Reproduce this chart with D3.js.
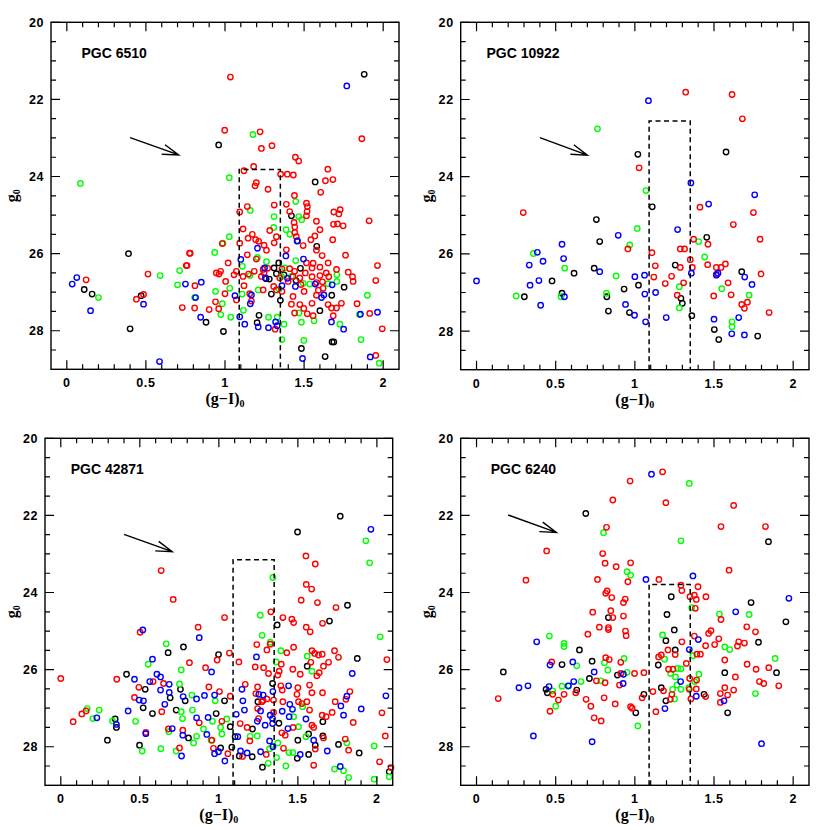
<!DOCTYPE html>
<meta charset="utf-8">
<style>
    body { margin: 0; background: #fff; }
    svg { font-family: "Liberation Sans", Arial, sans-serif; }
    .frame { fill: none; stroke: #000; stroke-width: 1.4; }
    .tick { stroke: #000; stroke-width: 1.2; }
    .ticklabel { font-size: 12.5px; font-weight: bold; letter-spacing: 0.6px; }
    .title { font-family: "Liberation Serif", "Times New Roman", serif; font-size: 16px; font-weight: bold; }
    .name { font-size: 14px; font-weight: bold; }
    .box { fill: none; stroke: #000; stroke-width: 1.5; stroke-dasharray: 5,3.5; }
    .arrow { fill: none; stroke: #000; stroke-width: 1.4; }
    .pt { fill: none; stroke-width: 1.4; }
</style>
<body>
<script src="https://cdn.jsdelivr.net/npm/d3@7"></script>
<script>
// axis ranges and tick values shared by all four panels
const xDomain = [-0.1, 2.1];
const yDomain = [20, 29];
const xMajor = [0, 0.5, 1, 1.5, 2];
const yMajor = [20, 22, 24, 26, 28];

// ---- PGC 6510 ----
const p1Black = [[1.88,21.35],[0.96,23.18],[1.57,24.14],[0.39,26.0],[0.11,26.93],[0.16,27.05],[0.47,27.09],[0.40,27.95],[0.88,27.78],[0.99,28.02],
  [1.42,25.02],[1.456,25.67],[1.58,25.81],[1.34,26.24],[1.31,26.37],[1.325,26.52],[1.28,26.66],[1.373,26.55],[1.477,26.38],[1.449,26.7],
  [1.753,26.87],[1.675,27.08],[1.293,27.05],[1.35,27.21],[1.215,27.6],[1.203,27.79],[1.6,27.48],[1.483,28.46],[1.633,28.67],[1.677,28.29],[1.688,28.29],[1.26,26.65]];
const p1Blue = [[1.77,21.65],[0.034,26.79],[0.063,26.62],[0.15,27.48],[0.485,27.31],[0.75,26.79],[0.814,27.14],[0.85,26.74],[0.846,27.65],[0.586,28.8],
  [1.063,27.09],[1.1,26.15],[1.093,27.64],[1.125,27.83],[1.167,27.07],[1.16,27.3],[1.21,27.9],[1.205,25.86],[1.25,26.37],[1.255,26.63],
  [1.275,27.92],[1.32,27.77],[1.33,27.87],[1.36,26.83],[1.385,26.06],[1.395,26.64],[1.445,26.85],[1.458,25.67],[1.496,26.14],[1.49,28.72],
  [1.57,26.79],[1.61,27.14],[1.625,27.07],[1.673,27.77],[1.677,26.81],[1.75,27.96],[1.856,27.57],[1.964,27.52],[1.918,28.68]];
const p1Green = [[0.086,24.18],[0.2,27.14],[0.59,26.57],[0.7,26.81],[0.713,26.44],[0.935,25.97],[0.94,26.98],[0.983,27.3],[0.973,27.58],[1.036,27.65],
  [1.027,24.03],[1.027,25.56],[1.03,26.9],[0.987,25.73],[1.11,26.33],[1.116,27.47],[1.158,26.57],[1.16,24.88],[1.177,22.91],[1.205,26.1],
  [1.21,26.94],[1.262,26.21],[1.31,25.04],[1.308,25.32],[1.275,27.65],[1.33,27.65],[1.36,28.23],[1.373,27.83],[1.386,25.38],[1.41,25.5],
  [1.377,26.37],[1.42,26.59],[1.447,24.65],[1.447,26.18],[1.466,25.04],[1.485,25.12],[1.468,27.54],[1.483,27.78],[1.498,28.25],[1.536,26.79],
  [1.563,27.74],[1.707,26.55],[1.707,26.72],[1.726,27.83],[1.9,27.08],[1.86,28.23],[1.975,28.84],[1.85,27.58],[1.494,26.77],[1.652,26.78],
  [1.342,26.92],[1.357,26.59],[1.108,27.05],[0.808,27.14]];
const p1Red = [[1.034,21.42],[0.998,22.8],[1.222,22.84],[1.23,23.27],[1.297,23.2],[1.865,23.02],[1.445,23.5],[1.466,23.6],[1.181,23.74],[1.12,23.85],
  [1.352,23.94],[1.394,23.94],[1.432,23.96],[1.65,23.81],[1.635,24.11],[1.682,24.08],[1.198,24.16],[1.19,24.24],[1.272,24.33],[1.605,24.41],
  [1.439,24.49],[1.311,24.74],[1.388,24.72],[1.515,24.69],[1.521,24.78],[1.093,24.92],[1.141,24.78],[1.409,24.91],[1.519,24.91],[1.515,25.02],
  [1.688,24.92],[1.728,24.86],[1.72,24.97],[1.911,25.15],[1.578,25.16],[1.437,25.19],[1.686,25.24],[1.711,25.23],[1.747,25.28],[1.441,25.31],
  [1.6,25.38],[1.283,25.4],[1.114,25.36],[1.441,25.45],[1.451,25.56],[1.568,25.54],[1.543,25.64],[1.173,25.5],[1.146,25.6],[1.194,25.64],
  [1.213,25.68],[1.247,25.78],[1.311,25.72],[1.325,25.56],[1.681,25.64],[1.093,25.73],[0.983,25.74],[1.262,25.91],[1.388,25.9],[1.494,25.79],
  [1.578,25.91],[1.614,26.05],[1.762,26.04],[0.78,25.99],[1.141,26.03],[1.198,26.14],[1.515,26.24],[1.557,26.25],[1.652,26.24],[0.755,26.31],
  [1.02,26.24],[1.964,26.31],[1.241,26.41],[1.409,26.39],[1.44,26.46],[1.508,26.5],[1.55,26.37],[1.6,26.57],[1.64,26.5],[1.705,26.41],
  [1.779,26.48],[1.806,26.6],[1.81,26.72],[1.953,26.7],[0.945,26.5],[0.962,26.53],[0.972,26.46],[1.057,26.55],[1.072,26.46],[1.114,26.59],
  [1.149,26.53],[1.185,26.46],[1.23,26.59],[1.247,26.5],[1.346,26.63],[1.399,26.72],[1.43,26.59],[1.473,26.63],[1.55,26.6],[1.578,26.75],
  [1.616,26.73],[1.656,26.6],[0.81,26.83],[0.73,27.4],[1.004,26.72],[1.12,26.83],[1.0,27.04],[0.94,27.25],[0.96,27.43],[0.9,27.45],
  [0.808,27.41],[1.072,27.2],[1.156,27.04],[1.167,27.23],[1.241,26.94],[1.308,26.85],[1.325,26.94],[1.43,27.11],[1.42,27.31],[1.473,27.32],
  [1.498,27.42],[1.55,27.29],[1.578,27.08],[1.652,27.32],[1.673,27.41],[1.705,27.41],[1.736,27.29],[1.835,27.3],[1.915,27.55],[1.44,27.54],
  [1.52,27.56],[1.557,27.61],[1.684,27.61],[1.994,27.95],[1.317,27.96],[1.953,28.64],[0.122,26.68],[0.44,27.18],[0.485,27.06],[0.513,26.53],
  [0.76,26.31],[0.776,25.99],[1.62,26.9],[1.59,26.95],[1.36,26.98],[1.5,26.98],[1.27,26.38],[1.36,26.4],[1.6,26.35],[1.48,26.8]];

// ---- PGC 10922 ----
const p2Black = [[1.019,23.42],[1.11,24.78],[0.757,25.11],[0.778,25.68],[0.743,26.37],[0.616,26.5],[0.477,26.7],[0.54,27.02],[0.302,27.11],[0.823,27.11],
  [0.833,27.48],[0.932,26.91],[0.966,27.52],[1.023,26.81],[1.255,26.29],[1.291,27.15],[1.3,27.28],[1.36,27.6],[1.454,25.57],[1.576,23.36],
  [1.675,26.46],[1.502,27.96],[1.53,28.22],[1.776,28.13]];
const p2Blue = [[0.0,26.7],[0.384,25.96],[0.333,26.29],[0.42,26.19],[0.338,26.81],[0.394,26.69],[0.405,27.33],[0.54,25.75],[0.55,26.12],[0.555,27.11],
  [0.895,25.52],[0.778,26.46],[1.0,26.59],[1.061,26.55],[1.063,27.04],[0.941,27.31],[0.998,27.59],[1.068,27.76],[1.086,22.03],[1.131,27.0],
  [1.198,27.65],[1.27,25.37],[1.354,24.16],[1.357,26.5],[1.466,24.71],[1.515,26.55],[1.525,26.5],[1.5,27.69],[1.612,28.07],[1.656,27.65],
  [1.694,26.6],[1.692,28.1],[1.74,26.79],[1.757,24.47]];
const p2Green = [[0.764,22.76],[1.07,24.36],[1.015,25.34],[0.968,25.77],[0.359,25.99],[0.557,26.37],[0.251,27.09],[0.534,27.11],[0.821,27.02],[0.882,26.57],
  [1.281,26.85],[1.281,27.4],[1.403,25.68],[1.441,26.08],[1.549,26.9],[1.722,27.07],[1.614,27.76],[1.614,27.89]];
const p2Red = [[0.295,24.93],[1.321,21.81],[1.614,21.87],[1.679,22.5],[1.027,23.77],[1.411,24.79],[1.622,25.24],[1.749,24.93],[1.791,25.62],[0.956,25.87],
  [1.108,25.97],[1.129,26.31],[1.12,26.6],[1.192,26.77],[1.232,26.58],[1.287,25.87],[1.314,25.87],[1.287,26.35],[1.308,26.75],[1.268,27.07],
  [1.35,26.15],[1.363,26.35],[1.371,25.62],[1.462,25.75],[1.46,26.28],[1.515,26.35],[1.515,26.53],[1.544,26.35],[1.572,26.26],[1.589,26.75],
  [1.608,27.06],[1.498,27.09],[1.675,27.31],[1.711,27.25],[1.692,27.41],[1.797,26.52],[1.848,27.52]];

// ---- PGC 42871 ----
const p3Black = [[1.768,22.02],[1.498,22.43],[1.814,24.33],[1.7,24.74],[1.369,24.84],[1.876,25.71],[1.559,25.91],[0.776,25.41],[0.679,25.56],[0.998,25.61],
  [0.416,26.12],[0.534,26.51],[0.757,26.51],[0.692,26.73],[0.787,26.81],[1.036,26.81],[0.521,26.99],[0.58,27.14],[0.73,27.05],[0.983,27.14],
  [0.344,27.28],[0.352,27.5],[0.295,27.83],[0.498,27.96],[0.808,27.77],[1.011,28.03],[1.072,27.48],[1.082,28.01],[1.103,27.74],[1.129,28.24],
  [1.213,27.54],[1.211,28.26],[1.247,26.83],[1.276,28.53],[1.34,26.36],[1.38,27.39],[1.5,27.83],[1.496,28.3],[1.568,27.67],[1.568,28.2],
  [1.61,27.96],[1.658,27.35],[1.658,27.72],[1.757,27.94],[1.888,28.16],[2.078,28.65]];
const p3Blue = [[1.962,22.36],[0.519,24.97],[0.876,25.17],[0.58,25.73],[0.466,26.25],[0.608,26.12],[0.631,26.19],[0.563,26.31],[0.631,26.53],[0.954,26.06],
  [0.686,26.38],[0.496,26.79],[0.523,26.81],[0.426,27.07],[0.658,26.9],[0.686,26.59],[0.774,26.7],[0.859,26.76],[0.909,26.67],[0.973,26.66],
  [0.228,27.25],[0.352,27.42],[0.538,27.66],[0.705,27.53],[0.772,27.7],[0.859,27.25],[0.932,27.24],[0.924,27.68],[0.973,28.18],[0.998,28.13],
  [1.038,28.37],[0.764,28.24],[1.11,27.16],[1.12,27.74],[1.137,28.11],[1.146,26.51],[1.152,26.81],[1.162,27.05],[1.179,28.16],[1.238,25.67],
  [1.253,26.64],[1.264,27.07],[1.243,27.34],[1.28,26.66],[1.293,27.44],[1.264,28.13],[1.325,27.18],[1.342,26.57],[1.34,27.27],[1.34,27.4],
  [1.321,27.85],[1.342,28.0],[1.401,27.08],[1.437,27.53],[1.441,26.42],[1.449,26.9],[1.466,27.03],[1.445,27.22],[1.515,28.2],[1.551,27.28],
  [1.6,27.83],[1.686,28.11],[1.772,26.94],[1.81,26.69],[1.789,27.18],[1.901,27.02],[1.844,26.1],[2.057,26.68],[1.768,28.51]];
const p3Green = [[1.93,22.66],[1.954,23.23],[1.342,23.61],[1.262,24.59],[1.274,25.11],[1.325,25.29],[2.021,25.15],[0.667,25.33],[0.553,25.86],[0.762,26.01],
  [0.751,26.37],[0.829,26.66],[0.977,26.81],[1.363,25.8],[1.392,25.51],[1.559,25.65],[1.589,26.04],[1.53,26.96],[0.167,27.01],[0.243,27.05],
  [0.203,27.27],[0.327,27.33],[0.473,27.34],[0.762,27.09],[0.77,27.27],[0.833,27.05],[0.96,27.34],[1.011,27.5],[1.019,27.67],[0.903,27.54],
  [0.951,27.83],[1.05,27.28],[0.684,27.61],[0.859,27.73],[0.84,27.9],[0.515,28.11],[0.633,28.05],[0.73,28.11],[1.198,27.73],[1.243,27.72],
  [1.321,28.05],[1.373,27.9],[1.365,28.28],[1.312,28.43],[1.443,28.15],[1.468,28.15],[1.473,27.22],[1.504,27.48],[1.424,28.5],[1.551,27.74],
  [1.732,28.58],[1.789,28.62],[1.821,28.8],[1.81,27.9],[1.983,28.84],[1.983,27.98],[2.078,28.78]];
const p3Red = [[0.0,26.23],[0.078,27.35],[0.133,27.15],[0.16,27.07],[0.354,26.25],[0.466,26.72],[0.494,26.46],[0.502,25.03],[0.538,27.63],[0.584,26.31],
  [0.65,26.36],[0.639,27.09],[0.635,23.43],[0.711,24.18],[0.681,27.54],[0.751,28.03],[0.772,27.57],[0.814,25.82],[0.869,24.9],[0.876,27.38],
  [0.916,25.95],[0.937,26.45],[0.956,27.83],[0.966,28.04],[0.989,25.75],[1.004,26.57],[1.019,27.34],[1.036,24.65],[1.057,28.18],[1.067,25.57],
  [1.072,26.69],[1.127,25.8],[1.135,27.4],[1.167,26.38],[1.179,27.5],[1.196,27.85],[1.24,25.35],[1.23,25.93],[1.245,26.45],[1.234,26.62],
  [1.245,27.01],[1.251,27.27],[1.272,26.83],[1.283,25.95],[1.304,25.49],[1.314,26.1],[1.304,26.76],[1.325,25.34],[1.329,24.5],[1.346,26.79],
  [1.346,27.11],[1.373,26.14],[1.382,26.04],[1.392,26.42],[1.395,25.86],[1.405,24.65],[1.405,26.83],[1.401,26.53],[1.399,27.64],[1.409,28.04],
  [1.43,25.56],[1.462,24.69],[1.473,24.78],[1.473,25.42],[1.468,25.99],[1.494,26.64],[1.5,26.47],[1.504,26.83],[1.525,26.88],[1.557,26.83],
  [1.515,26.12],[1.521,24.2],[1.574,27.05],[1.551,23.05],[1.61,23.26],[1.553,23.79],[1.587,23.91],[1.624,24.26],[1.553,24.9],[1.578,25.02],
  [1.589,25.51],[1.606,25.58],[1.631,25.62],[1.582,25.81],[1.574,26.4],[1.589,26.6],[1.62,26.16],[1.635,26.08],[1.654,25.6],[1.656,24.8],
  [1.662,25.91],[1.656,26.6],[1.679,27.22],[1.654,27.18],[1.589,27.44],[1.61,28.06],[1.6,28.48],[1.662,27.77],[1.717,27.11],[1.732,25.51],
  [1.757,25.68],[1.736,26.83],[1.741,24.39],[1.694,25.81],[1.8,27.8],[1.804,26.77],[1.829,26.57],[1.821,28.09],[1.85,27.37],[2.017,28.39],
  [2.032,27.12],[2.053,27.72],[2.063,25.74],[2.089,28.54],[1.47,27.5],[1.6,27.5],[1.3,28.2],[1.42,27.7],[1.15,28.25],[1.28,26.8]];

// ---- PGC 6240 ----
const p4Black = [[0.69,21.95],[1.844,22.68],[1.23,24.11],[1.203,24.57],[1.734,24.26],[1.954,24.76],[0.833,24.65],[1.249,24.97],[1.196,25.25],[1.255,25.49],
  [1.781,25.29],[0.65,25.49],[0.54,25.87],[0.73,25.78],[0.169,26.06],[0.89,26.14],[0.713,26.23],[0.439,26.51],[0.447,26.6],[0.633,26.53],
  [1.148,25.88],[1.167,26.47],[1.196,26.81],[1.057,26.64],[1.006,27.12],[1.437,26.64],[1.568,26.08],[1.586,27.12],[1.895,26.08]];
const p4Blue = [[1.105,20.93],[1.07,23.66],[1.367,23.57],[1.637,24.5],[1.973,24.15],[1.401,25.22],[1.344,25.48],[0.38,25.28],[0.464,25.88],[0.608,25.8],
  [0.743,26.06],[0.928,26.12],[0.926,26.36],[0.614,26.31],[0.58,26.42],[0.458,26.44],[0.268,26.47],[0.325,26.42],[1.289,26.31],[1.388,26.69],
  [1.19,27.01],[1.563,26.81],[0.359,27.72],[0.73,27.87],[1.8,27.92]];
const p4Green = [[1.344,21.17],[0.802,22.45],[1.291,22.66],[0.951,23.46],[0.973,23.55],[1.359,24.39],[0.46,25.13],[0.553,25.32],[0.553,25.4],[1.175,25.1],
  [0.932,25.71],[0.808,25.82],[0.829,26.01],[0.633,25.9],[0.951,26.07],[0.785,26.29],[0.66,26.31],[0.54,26.43],[0.58,26.43],[0.481,26.55],
  [0.5,26.95],[1.019,27.46],[1.188,25.73],[1.226,26.1],[1.257,26.19],[1.27,25.97],[1.291,25.98],[1.266,26.4],[1.238,26.51],[1.291,26.51],
  [1.251,26.76],[1.34,26.47],[1.378,26.31],[1.405,26.12],[1.367,25.64],[1.534,24.56],[1.722,24.57],[1.568,25.41],[1.599,25.48],[1.762,26.62],
  [1.886,25.71]];
const p4Red = [[1.175,20.87],[0.97,21.11],[0.861,21.6],[1.196,21.67],[1.624,21.74],[0.821,22.31],[1.544,22.29],[1.825,22.29],[0.443,22.92],[0.312,23.68],
  [0.797,22.99],[0.812,23.24],[0.882,23.33],[0.973,23.23],[0.764,23.66],[0.956,23.72],[1.595,23.42],[1.152,23.66],[1.291,23.81],[1.297,23.95],
  [0.825,23.96],[0.816,24.02],[0.854,24.13],[0.939,24.17],[0.928,24.26],[1.348,24.11],[1.376,24.07],[1.388,24.18],[1.399,23.85],[1.449,24.11],
  [1.382,24.41],[0.734,24.51],[0.848,24.47],[0.861,24.65],[0.928,24.61],[1.544,24.7],[0.776,24.9],[0.833,24.91],[0.833,24.96],[0.941,25.0],
  [0.945,25.12],[0.703,25.08],[1.376,25.13],[1.466,25.06],[1.481,24.99],[1.297,25.28],[1.447,25.38],[1.504,25.35],[1.53,25.2],[1.648,25.39],
  [1.656,25.28],[1.692,25.31],[1.707,24.89],[1.762,25.02],[1.15,25.67],[1.167,25.62],[1.209,25.49],[1.255,25.61],[1.392,25.6],[1.414,25.6],
  [0.816,25.69],[0.838,25.74],[0.911,25.81],[0.475,25.8],[0.812,26.34],[0.757,26.29],[0.911,26.1],[0.998,26.1],[1.057,26.08],[1.568,25.75],
  [1.709,25.86],[1.766,25.99],[1.846,25.95],[1.787,26.31],[1.814,26.36],[1.909,26.42],[1.635,26.19],[1.213,25.99],[1.241,25.99],[1.325,25.84],
  [1.346,26.23],[1.388,26.5],[1.344,26.51],[1.181,26.55],[1.234,26.64],[1.224,26.77],[1.114,26.57],[1.046,26.73],[1.133,27.09],[0.903,26.4],
  [0.973,26.96],[0.983,27.0],[0.876,26.89],[0.722,26.95],[0.692,26.77],[0.806,26.73],[0.553,26.64],[0.627,26.6],[0.481,26.64],[0.517,26.79],
  [0.464,27.08],[0.743,27.25],[0.787,27.33],[0.137,26.75],[1.354,26.76],[1.447,26.7],[1.54,26.62],[1.54,26.85],[1.586,26.66],[1.624,26.53],
  [1.568,26.47],[1.39,26.27]];

// galaxy names, dashed box (colour cut and g0 top), reddening arrows
const names = ["PGC 6510", "PGC 10922", "PGC 42871", "PGC 6240"];
const boxTop = [23.82, 22.56, 23.15, 23.79];
const boxX = [1.09, 1.35];
const arrowFrom = [[0.40, 22.99], [0.40, 22.99], [0.40, 22.49], [0.20, 21.99]];
const arrowTo = [[0.707, 23.44], [0.70, 23.44], [0.705, 22.94], [0.504, 22.44]];

const frames = [
    {left: 51, right: 399, top: 22.3, bottom: 369.3, nameX: 0.093, ytX: 17},
    {left: 460.7, right: 809, top: 22.3, bottom: 369.7, nameX: 0.063, ytX: 432},
    {left: 45, right: 392.7, top: 438.3, bottom: 785.3, nameX: 0.063, ytX: 17},
    {left: 460.7, right: 809, top: 438.3, bottom: 785.3, nameX: 0.09, ytX: 432}
];

const series = [
    {black: p1Black, red: p1Red, green: p1Green, blue: p1Blue},
    {black: p2Black, red: p2Red, green: p2Green, blue: p2Blue},
    {black: p3Black, red: p3Red, green: p3Green, blue: p3Blue},
    {black: p4Black, red: p4Red, green: p4Green, blue: p4Blue}
];
const colour = {black: "#000000", red: "#ff0000", green: "#00ff00", blue: "#0000ff"};
const drawOrder = ["black", "green", "red", "blue"];

const svg = d3.select("body").append("svg")
    .attr("width", 830)
    .attr("height", 830);

frames.forEach((f, i) => {
    const x = d3.scaleLinear().domain(xDomain).range([f.left, f.right]);
    const y = d3.scaleLinear().domain(yDomain).range([f.top, f.bottom]);
    const g = svg.append("g");

    // points
    drawOrder.forEach(c => {
        g.selectAll(".p" + c)
            .data(series[i][c])
            .enter().append("circle")
            .attr("class", "pt")
            .attr("cx", d => x(d[0]))
            .attr("cy", d => y(d[1]))
            .attr("r", 2.7)
            .style("stroke", colour[c]);
    });

    // dashed selection box
    g.append("path")
        .attr("class", "box")
        .attr("d", "M" + x(boxX[0]) + "," + y(29) + "V" + y(boxTop[i]) + "H" + x(boxX[1]) + "V" + y(29));

    // reddening arrow
    const a0 = [x(arrowFrom[i][0]), y(arrowFrom[i][1])];
    const a1 = [x(arrowTo[i][0]), y(arrowTo[i][1])];
    const ang = Math.atan2(a1[1] - a0[1], a1[0] - a0[0]);
    const head = 17, spread = 0.3;
    g.append("path")
        .attr("class", "arrow")
        .attr("d", "M" + a0 + "L" + a1 +
            "M" + [a1[0] - head * Math.cos(ang - spread), a1[1] - head * Math.sin(ang - spread)] + "L" + a1 +
            "L" + [a1[0] - head * Math.cos(ang + spread), a1[1] - head * Math.sin(ang + spread)]);

    // ticks on all four sides
    const xMinor = d3.range(0, 21).map(v => v / 10).filter(v => !xMajor.includes(v));
    const yMinor = d3.range(20.5, 29, 0.5).filter(v => !yMajor.includes(v));
    const tk = [];
    xMajor.forEach(v => tk.push([x(v), 9, "x"]));
    xMinor.forEach(v => tk.push([x(v), 5, "x"]));
    yMajor.forEach(v => tk.push([y(v), 9, "y"]));
    yMinor.forEach(v => tk.push([y(v), 5, "y"]));
    g.selectAll(".tick")
        .data(tk)
        .enter().append("path")
        .attr("class", "tick")
        .attr("d", d => d[2] === "x"
            ? "M" + d[0] + "," + f.bottom + "v" + (-d[1]) + "M" + d[0] + "," + f.top + "v" + d[1]
            : "M" + f.left + "," + d[0] + "h" + d[1] + "M" + f.right + "," + d[0] + "h" + (-d[1]));

    g.append("rect")
        .attr("class", "frame")
        .attr("x", f.left).attr("y", f.top)
        .attr("width", f.right - f.left).attr("height", f.bottom - f.top);

    // tick labels
    g.selectAll(".xl")
        .data(xMajor)
        .enter().append("text")
        .attr("class", "ticklabel")
        .attr("x", d => x(d))
        .attr("y", f.bottom + 18)
        .attr("text-anchor", "middle")
        .text(d => d);
    g.selectAll(".yl")
        .data(yMajor)
        .enter().append("text")
        .attr("class", "ticklabel")
        .attr("x", f.left - 7)
        .attr("y", d => y(d) + 4.5)
        .attr("text-anchor", "end")
        .text(d => d);

    // axis titles
    const xt = g.append("text")
        .attr("class", "title")
        .attr("x", (f.left + f.right) / 2)
        .attr("y", f.bottom + 35)
        .attr("text-anchor", "middle");
    xt.append("tspan").text("(g\u2212I)");
    xt.append("tspan").attr("font-size", "10px").attr("dy", 3).text("0");

    const yt = g.append("text")
        .attr("class", "title")
        .attr("transform", "translate(" + f.ytX + "," + ((f.top + f.bottom) / 2) + ") rotate(-90)")
        .attr("text-anchor", "middle");
    yt.append("tspan").text("g");
    yt.append("tspan").attr("font-size", "10px").attr("dy", 3).text("0");

    // galaxy name
    g.append("text")
        .attr("class", "name")
        .attr("x", x(f.nameX))
        .attr("y", y(20.93))
        .text(names[i]);
});
</script>
</body>
</html>
